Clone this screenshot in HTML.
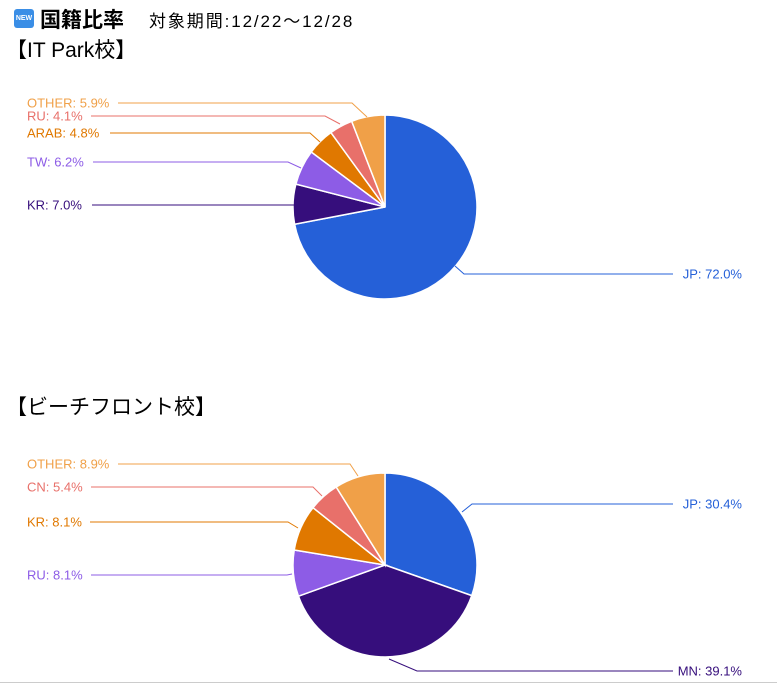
<!DOCTYPE html>
<html><head><meta charset="utf-8"><style>
body{margin:0;width:777px;height:686px;background:#fff;overflow:hidden;font-family:"Liberation Sans","Noto Sans CJK JP",sans-serif;position:relative}
.t{position:absolute;white-space:nowrap;color:#000}
</style></head><body>
<div style="position:absolute;left:14px;top:9px;width:20px;height:19px;background:#3a8ee6;border-radius:3px;color:#fff;font-size:7px;font-weight:bold;text-align:center;line-height:19px">NEW</div>
<div class="t" style="left:40px;top:4px;font-size:21px;font-weight:bold">国籍比率</div>
<div class="t" style="left:149px;top:7px;font-size:17px;letter-spacing:1.9px">対象期間:12/22〜12/28</div>
<div class="t" style="left:6px;top:34px;font-size:21px">【IT Park校】</div>
<div class="t" style="left:6px;top:391px;font-size:21px">【ビーチフロント校】</div>
<svg id="s" width="777" height="686" style="position:absolute;left:0;top:0" font-family="Liberation Sans, sans-serif" font-size="13"></svg>
<div style="position:absolute;left:0;top:682px;width:777px;height:1px;background:#ccc"></div>
<script>
const C={jp:"#2560d8",dk:"#360e7c",pu:"#8d5ce6",or:"#e07800",rd:"#e8706a",ot:"#f0a048"};
let h="";
function pie(cx,cy,r,data){let a=0;for(const[v,c]of data){const a0=a,a1=a+v/100*2*Math.PI;a=a1;
const x0=cx+r*Math.sin(a0),y0=cy-r*Math.cos(a0),x1=cx+r*Math.sin(a1),y1=cy-r*Math.cos(a1);
h+=`<path d="M${cx},${cy}L${x0},${y0}A${r},${r} 0 ${a1-a0>Math.PI?1:0} 1 ${x1},${y1}Z" fill="${c}" stroke="#fff" stroke-width="1.5"/>`;}}
pie(385,207,92,[[72,C.jp],[7,C.dk],[6.2,C.pu],[4.8,C.or],[4.1,C.rd],[5.9,C.ot]]);
pie(385,565,92,[[30.4,C.jp],[39.1,C.dk],[8.1,C.pu],[8.1,C.or],[5.4,C.rd],[8.9,C.ot]]);
function lab(t,x,y,c,pts,anchor){h+=`<polyline points="${pts}" fill="none" stroke="${c}" stroke-width="1"/>`;
h+=`<text x="${x}" y="${y+4.5}" fill="${c}" text-anchor="${anchor||'start'}">${t}</text>`;}
lab("OTHER: 5.9%",27,103,C.ot,"118,103 352,103 367,117");
lab("RU: 4.1%",27,116,C.rd,"91,116 325,116 340,124");
lab("ARAB: 4.8%",27,133,C.or,"110,133 310,133 320,142");
lab("TW: 6.2%",27,162,C.pu,"93,162 288,162 301,168");
lab("KR: 7.0%",27,205,C.dk,"92,205 294,205");
lab("JP: 72.0%",742,274,C.jp,"455,266 464,274 673,274","end");
lab("OTHER: 8.9%",27,464,C.ot,"118,464 350,464 358,476");
lab("CN: 5.4%",27,487,C.rd,"91,487 313,487 322,496");
lab("KR: 8.1%",27,522,C.or,"90,522 288,522 298,528");
lab("RU: 8.1%",27,575,C.pu,"91,575 287,575 292,574");
lab("JP: 30.4%",742,504,C.jp,"462,512 472,504 673,504","end");
lab("MN: 39.1%",742,671,C.dk,"389,659 417,671 673,671","end");
document.getElementById("s").innerHTML=h;
</script>
</body></html>
